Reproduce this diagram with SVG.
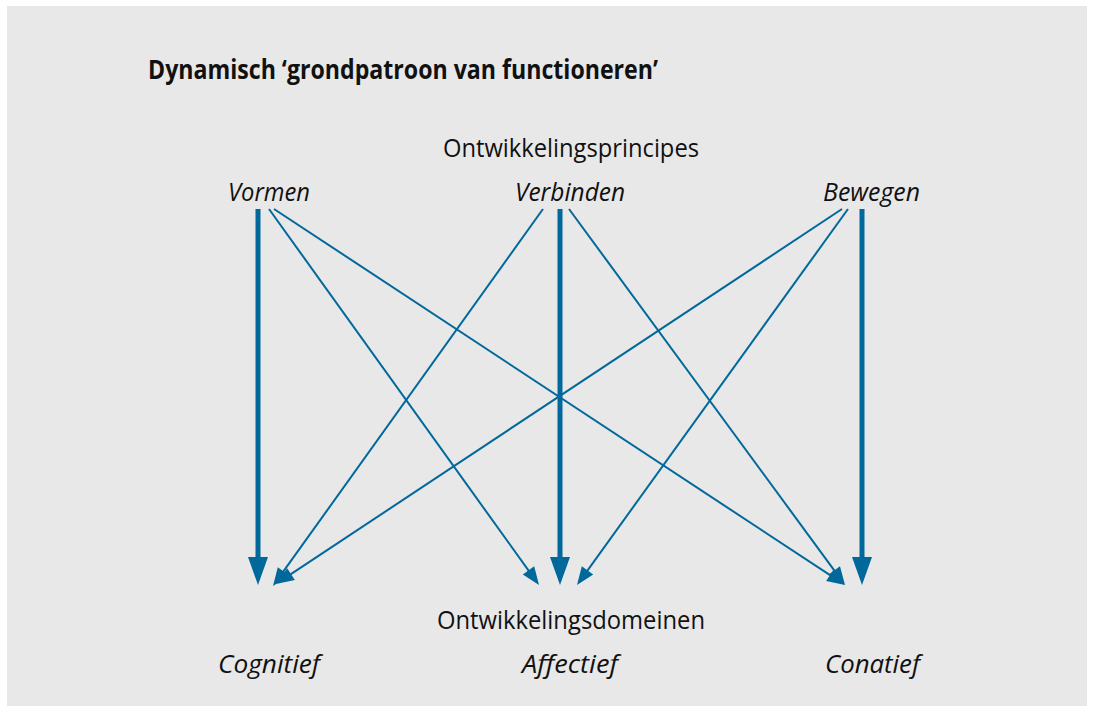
<svg xmlns="http://www.w3.org/2000/svg" width="1094" height="712" viewBox="0 0 1094 712">
<style>
.t{font-family:"Open Sans","Noto Sans","Liberation Sans",sans-serif;fill:#111;}
.title{font-size:26px;font-weight:700;}
.hdr{font-size:25px;font-weight:400;}
.it{font-size:25px;font-style:italic;font-weight:400;}
.thick{stroke:#00689a;stroke-width:5;fill:none;}
.thin{stroke:#00689a;stroke-width:2;fill:none;}
</style>
<defs>
<marker id="hb" markerUnits="userSpaceOnUse" viewBox="0 0 28 20" markerWidth="28" markerHeight="20" refX="8" refY="10" orient="auto" overflow="visible">
<path d="M0,0 L28,10 L0,20 z" fill="#00689a"/>
</marker>
<marker id="hs" markerUnits="userSpaceOnUse" viewBox="0 0 18 14" markerWidth="18" markerHeight="14" refX="6" refY="7" orient="auto" overflow="visible">
<path d="M0,0 L18,7 L0,14 z" fill="#00689a"/>
</marker>
</defs>
<rect x="7" y="6" width="1080" height="700" fill="#e8e8e8"/>
<text class="t title" x="148" y="79" textLength="510" lengthAdjust="spacingAndGlyphs">Dynamisch ‘grondpatroon van functioneren’</text>
<g id="hdr-principes"><text class="t hdr" x="443" y="157" textLength="256" lengthAdjust="spacingAndGlyphs">Ontwikkelingsprincipes</text></g>
<g id="vormen"><text class="t it" x="228" y="201" textLength="82" lengthAdjust="spacingAndGlyphs">Vormen</text></g>
<g id="verbinden"><text class="t it" x="515" y="201" textLength="110" lengthAdjust="spacingAndGlyphs">Verbinden</text></g>
<g id="bewegen"><text class="t it" x="823" y="201" textLength="97" lengthAdjust="spacingAndGlyphs">Bewegen</text></g>
<g id="hdr-domeinen"><text class="t hdr" x="437" y="629" textLength="268" lengthAdjust="spacingAndGlyphs">Ontwikkelingsdomeinen</text></g>
<g id="cognitief"><text class="t it" x="218" y="673" textLength="102" lengthAdjust="spacingAndGlyphs">Cognitief</text></g>
<g id="affectief"><text class="t it" x="522" y="673" textLength="96" lengthAdjust="spacingAndGlyphs">Affectief</text></g>
<g id="conatief"><text class="t it" x="825" y="673" textLength="95" lengthAdjust="spacingAndGlyphs">Conatief</text></g>
<g id="connectors">
<line class="thick" x1="258" y1="209" x2="258" y2="565" marker-end="url(#hb)"/>
<line class="thick" x1="560" y1="209" x2="560" y2="565" marker-end="url(#hb)"/>
<line class="thick" x1="862" y1="209" x2="862" y2="565" marker-end="url(#hb)"/>
<line class="thin" x1="269" y1="209" x2="532" y2="575.3" marker-end="url(#hs)"/>
<line class="thin" x1="274" y1="209" x2="835" y2="578.4" marker-end="url(#hs)"/>
<line class="thin" x1="543" y1="209" x2="280" y2="576.2" marker-end="url(#hs)"/>
<line class="thin" x1="569" y1="209" x2="837.9" y2="575.3" marker-end="url(#hs)"/>
<line class="thin" x1="842" y1="209" x2="286" y2="577.4" marker-end="url(#hs)"/>
<line class="thin" x1="848" y1="209" x2="584" y2="575.3" marker-end="url(#hs)"/>
</g>
</svg>
